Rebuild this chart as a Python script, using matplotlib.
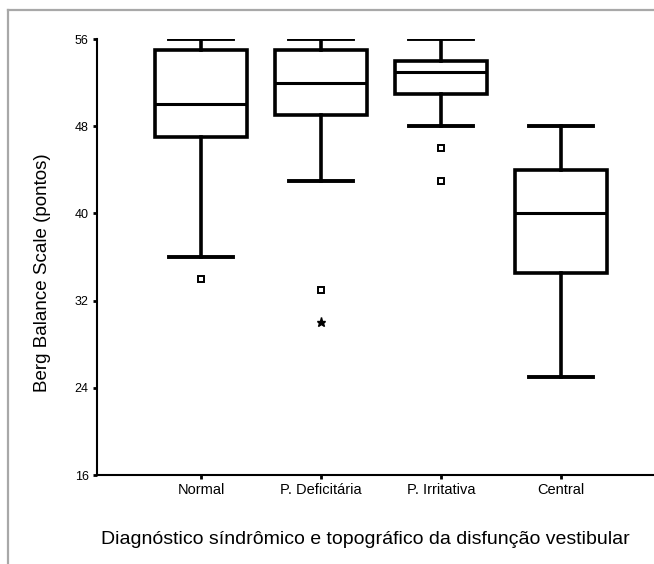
import matplotlib
matplotlib.use("Agg")
import matplotlib.pyplot as plt
from matplotlib.lines import Line2D

# Berg Balance Scale per diagnostic group
categories = ["Normal", "P. Deficitária", "P. Irritativa", "Central"]
whisker_low = [36, 43, 48, 25]
q1 = [47, 49, 51, 34.5]
medians = [50, 52, 53, 40]
q3 = [55, 55, 54, 44]
whisker_high = [56, 56, 56, 48]
outliers = [[34], [33], [46, 43], []]
extremes = [[], [30], [], []]
y_ticks = [16, 24, 32, 40, 48, 56]

plt.rcParams["font.family"] = ["Liberation Sans", "DejaVu Sans"]

fig = plt.figure(figsize=(6.54, 5.64), dpi=100)
ax = fig.add_axes([97 / 654, 1 - 475 / 564, 1 - 97 / 654, (475 - 39) / 564])

stats = []
for i, name in enumerate(categories):
    stats.append(dict(label=name, med=medians[i], q1=q1[i], q3=q3[i],
                      whislo=whisker_low[i], whishi=whisker_high[i],
                      fliers=outliers[i]))

positions = list(range(1, len(categories) + 1))
ax.bxp(stats, positions=positions, widths=0.77, patch_artist=True,
       showfliers=True,
       boxprops=dict(facecolor="white", edgecolor="black", linewidth=2.6),
       medianprops=dict(color="black", linewidth=2.2),
       whiskerprops=dict(color="black", linewidth=2.6),
       capprops=dict(color="black", linewidth=2.8),
       capwidths=0.54,
       flierprops=dict(marker="s", markersize=4.5, markerfacecolor="white",
                       markeredgecolor="black", markeredgewidth=1.4))

for pos, vals in zip(positions, extremes):
    for v in vals:
        ax.plot(pos, v, marker="*", markersize=6.5, color="black",
                linestyle="none")

ax.set_ylim(16, 56)
ax.set_xlim(0.133, 4.775)
ax.set_yticks(y_ticks)
ax.set_yticklabels([str(t) for t in y_ticks], fontsize=9)
ax.set_xticks(positions)
ax.set_xticklabels(categories, fontsize=10.5)
ax.tick_params(axis="both", length=3, width=2, direction="out", pad=3)

for side in ("top", "right"):
    ax.spines[side].set_visible(False)
for side in ("left", "bottom"):
    ax.spines[side].set_linewidth(1.5)

ax.set_ylabel("Berg Balance Scale (pontos)", fontsize=13.5)
ax.yaxis.label.set_va("center")
ax.yaxis.set_label_coords(-0.097, 0.463)

ax.set_xlabel("Diagnóstico síndrômico e topográfico da disfunção vestibular",
              fontsize=14)
ax.xaxis.label.set_va("center")
ax.xaxis.set_label_coords(0.481, -0.149)

# grey frame along the top and left edges
fig.add_artist(Line2D([8 / 654, 1], [1 - 10 / 564, 1 - 10 / 564],
                      transform=fig.transFigure, color="#a8a8a8", linewidth=1.6))
fig.add_artist(Line2D([8 / 654, 8 / 654], [0, 1 - 10 / 564],
                      transform=fig.transFigure, color="#a8a8a8", linewidth=1.6))

fig.savefig("out.png", dpi=100)
